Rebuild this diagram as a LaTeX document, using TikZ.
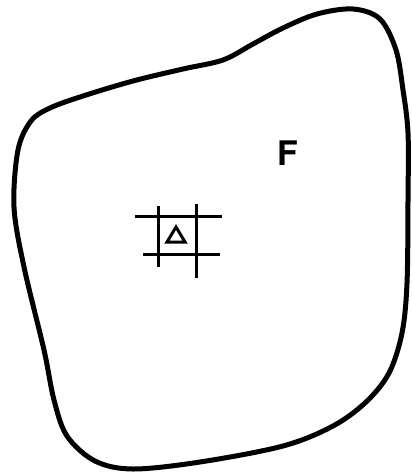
\documentclass[tikz,border=0pt]{standalone}
\usepackage{fontspec}
\setsansfont{TeX Gyre Heros}
\begin{document}
\begin{tikzpicture}[x=1bp,y=-1bp,
  blob/.style={line width=5bp,line join=round},
  gridline/.style={line width=3bp},
  tri/.style={line width=3bp,line join=miter}]
\useasboundingbox (0,0) rectangle (411,475);
\draw[blob] plot[smooth cycle,tension=0.55] coordinates {
 (353,9) (380,19) (396,50) (403,90) (408,133) (408,200) (407,283) (402,333)
 (389,373) (366,402) (333,426) (283,446) (200,462) (133,469) (95,461)
 (67,436) (54,400) (44,350) (24,267) (14,207) (18,150) (31,121) (50,108)
 (83,96) (133,81) (183,69) (223,60) (253,44) (283,28) (317,14)};
\coordinate (h1a) at (135,217); \coordinate (h1b) at (222,217);
\coordinate (h2a) at (143,254); \coordinate (h2b) at (220,254);
\coordinate (v1a) at (158,206); \coordinate (v1b) at (158,267);
\coordinate (v2a) at (196,204); \coordinate (v2b) at (196,278);
\draw[gridline] (h1a) -- (h1b);
\draw[gridline] (h2a) -- (h2b);
\draw[gridline] (v1a) -- (v1b);
\draw[gridline] (v2a) -- (v2b);
\coordinate (t1) at (176,227); \coordinate (t2) at (167,242); \coordinate (t3) at (185,242);
\draw[tri] (t1) -- (t2) -- (t3) -- cycle;
\node[font=\fontsize{34}{34}\sffamily\bfseries,inner sep=0pt] (F) at (288,153) {F};
\end{tikzpicture}
\end{document}
